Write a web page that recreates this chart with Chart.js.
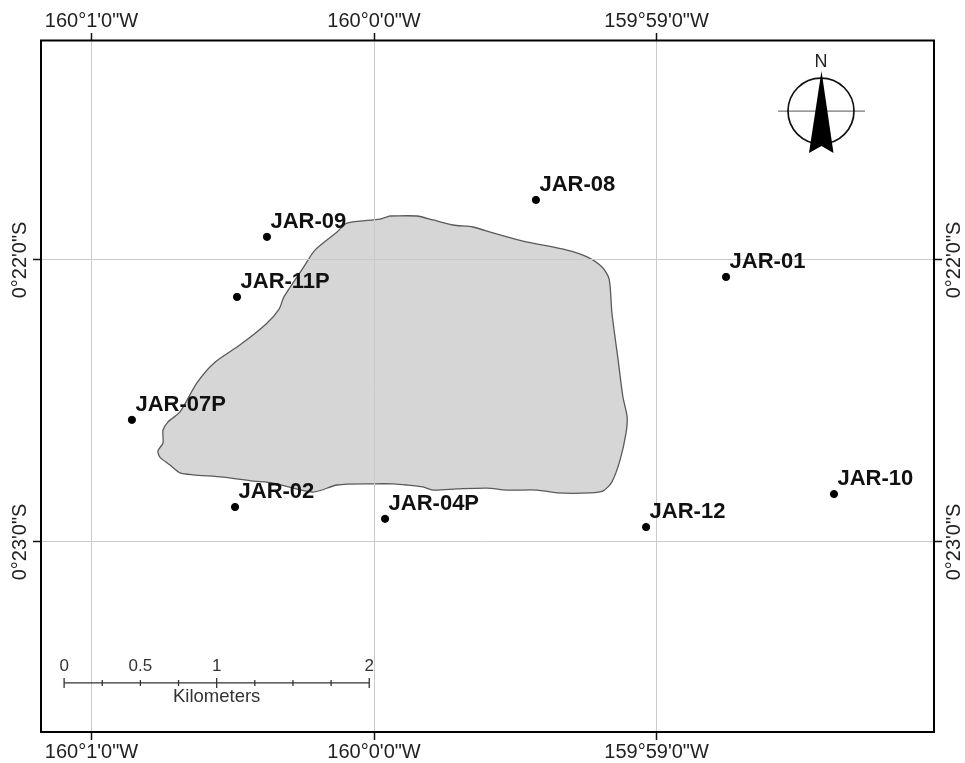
<!DOCTYPE html>
<html>
<head>
<meta charset="utf-8">
<title>JAR stations</title>
<script src="https://cdn.jsdelivr.net/npm/chart.js@4"></script>
<style>
    html, body { margin: 0; padding: 0; background: #fff; }
    canvas { display: block; }
</style>
</head>
<body>
<canvas id="mapChart" width="965" height="763"></canvas>
<script>
// Longitude: minutes east of 160 W, latitude: minutes south of the equator
const lonTicks = [-1, 0, 1];
const lonTickLabels = ['160\u00b01\'0"W', '160\u00b00\'0"W', '159\u00b059\'0"W'];
const latTicks = [22, 23];
const latTickLabels = ['0\u00b022\'0"S', '0\u00b023\'0"S'];

const stationNames = ['JAR-08', 'JAR-09', 'JAR-01', 'JAR-11P', 'JAR-07P', 'JAR-02', 'JAR-04P', 'JAR-12', 'JAR-10'];
const stationLon = [0.573, -0.379, 1.246, -0.485, -0.857, -0.492, 0.039, 0.963, 1.628];
const stationLat = [21.787, 21.918, 22.060, 22.131, 22.567, 22.876, 22.918, 22.947, 22.830];

// Outline of the island, clockwise from the top
const islandLon = [0.057, 0.152, 0.209, 0.280, 0.350, 0.421, 0.527, 0.683, 0.754, 0.807, 0.832, 0.842, 0.864, 0.881, 0.896, 0.892, 0.871, 0.842, 0.811, 0.765, 0.648, 0.577, 0.471, 0.400, 0.294, 0.209, 0.173, 0.117, 0.067, -0.004, -0.131, -0.216, -0.358, -0.428, -0.535, -0.641, -0.687, -0.722, -0.758, -0.765, -0.747, -0.747, -0.729, -0.687, -0.627, -0.566, -0.474, -0.382, -0.336, -0.319, -0.251, -0.209, -0.131, -0.096, 0.021, 0.057];
const islandLat = [21.844, 21.844, 21.858, 21.876, 21.883, 21.904, 21.933, 21.965, 21.989, 22.025, 22.067, 22.188, 22.355, 22.486, 22.557, 22.613, 22.709, 22.787, 22.819, 22.826, 22.826, 22.816, 22.816, 22.809, 22.812, 22.816, 22.805, 22.798, 22.794, 22.794, 22.798, 22.823, 22.791, 22.784, 22.770, 22.762, 22.755, 22.727, 22.699, 22.677, 22.649, 22.603, 22.574, 22.539, 22.436, 22.365, 22.301, 22.227, 22.174, 22.131, 22.028, 21.965, 21.901, 21.869, 21.855, 21.844];

// Scale bar: kilometers along the bar, which ones get a label
const scaleKm = [0, 0.25, 0.5, 0.75, 1, 1.25, 1.5, 1.75, 2];
const scaleKmLabels = ['0', '', '0.5', '', '1', '', '', '', '2'];
const scaleMinutesPerKm = 0.54;
const scaleStartLon = -1.097;
const scaleLat = 23.5;

const compassLon = 1.582;
const compassLat = 21.472;

const FONT = '"Liberation Sans", Arial, sans-serif';
const LON_MIN = -1.1788, LON_MAX = 1.982;
const LAT_MIN = 21.2234, LAT_MAX = 23.674;

function pointsFrom(lons, lats) {
    return lons.map((lon, i) => ({ x: lon, y: lats[i] }));
}

function labelFrom(values, labels) {
    return value => labels[values.indexOf(value)];
}

function lonAxis(position, size) {
    return {
        type: 'linear',
        position: position,
        min: LON_MIN,
        max: LON_MAX,
        afterBuildTicks: scale => { scale.ticks = lonTicks.map(v => ({ value: v })); },
        afterFit: scale => { scale.height = size; },
        border: { display: false },
        grid: {
            z: 1,
            color: '#cacaca',
            lineWidth: 1,
            tickColor: '#111',
            tickWidth: 1.5,
            tickLength: 8,
            drawOnChartArea: position === 'bottom'
        },
        ticks: {
            autoSkip: false,
            maxRotation: 0,
            minRotation: 0,
            padding: 0,
            color: '#222',
            font: { family: FONT, size: 20 },
            callback: labelFrom(lonTicks, lonTickLabels)
        }
    };
}

function latAxis(position, size) {
    return {
        type: 'linear',
        position: position,
        reverse: true,
        min: LAT_MIN,
        max: LAT_MAX,
        afterBuildTicks: scale => { scale.ticks = latTicks.map(v => ({ value: v })); },
        afterFit: scale => { scale.width = size; },
        border: { display: false },
        grid: {
            z: 1,
            color: '#cacaca',
            lineWidth: 1,
            tickColor: '#111',
            tickWidth: 1.5,
            tickLength: 8,
            drawOnChartArea: position === 'left'
        },
        ticks: {
            autoSkip: false,
            minRotation: 90,
            maxRotation: 90,
            crossAlign: 'center',
            padding: -26,
            color: '#222',
            font: { family: FONT, size: 20 },
            callback: labelFrom(latTicks, latTickLabels)
        }
    };
}

const mapFrame = {
    id: 'mapFrame',
    afterDraw(chart) {
        const { left, top, width, height } = chart.chartArea;
        const ctx = chart.ctx;
        ctx.save();
        ctx.strokeStyle = '#000';
        ctx.lineWidth = 2;
        ctx.strokeRect(left, top - 0.5, width, height + 0.5);
        ctx.restore();
    }
};

// Station names sit up and to the right of each dot
const stationLabels = {
    id: 'stationLabels',
    afterDraw(chart) {
        const ctx = chart.ctx;
        ctx.save();
        ctx.font = 'bold 22px ' + FONT;
        ctx.fillStyle = '#111';
        ctx.textBaseline = 'middle';
        ctx.textAlign = 'left';
        stationNames.forEach((name, i) => {
            const px = chart.scales.x.getPixelForValue(stationLon[i]);
            const py = chart.scales.y.getPixelForValue(stationLat[i]);
            ctx.fillText(name, px + 3.5, py - 15);
        });
        ctx.restore();
    }
};

const scaleBar = {
    id: 'scaleBar',
    afterDraw(chart) {
        const ctx = chart.ctx;
        const y = chart.scales.y.getPixelForValue(scaleLat);
        const xAt = km => chart.scales.x.getPixelForValue(scaleStartLon + km * scaleMinutesPerKm);
        ctx.save();
        ctx.strokeStyle = '#333';
        ctx.lineWidth = 1.3;
        ctx.beginPath();
        ctx.moveTo(xAt(scaleKm[0]), y);
        ctx.lineTo(xAt(scaleKm[scaleKm.length - 1]), y);
        scaleKm.forEach((km, i) => {
            const half = scaleKmLabels[i] && km !== 0.5 ? 5 : 3;
            ctx.moveTo(xAt(km), y - half);
            ctx.lineTo(xAt(km), y + half);
        });
        ctx.stroke();
        ctx.fillStyle = '#333';
        ctx.font = '17px ' + FONT;
        ctx.textAlign = 'center';
        ctx.textBaseline = 'middle';
        scaleKm.forEach((km, i) => {
            if (scaleKmLabels[i]) ctx.fillText(scaleKmLabels[i], xAt(km), y - 17);
        });
        ctx.font = '18.5px ' + FONT;
        ctx.fillText('Kilometers', xAt(1), y + 14);
        ctx.restore();
    }
};

const northArrow = {
    id: 'northArrow',
    afterDraw(chart) {
        const ctx = chart.ctx;
        const cx = chart.scales.x.getPixelForValue(compassLon);
        const cy = chart.scales.y.getPixelForValue(compassLat);
        ctx.save();
        ctx.strokeStyle = '#777';
        ctx.lineWidth = 1.3;
        ctx.beginPath();
        ctx.moveTo(cx - 43, cy);
        ctx.lineTo(cx + 44, cy);
        ctx.stroke();
        ctx.strokeStyle = '#111';
        ctx.lineWidth = 1.7;
        ctx.beginPath();
        ctx.arc(cx, cy, 33, 0, Math.PI * 2);
        ctx.stroke();
        ctx.fillStyle = '#000';
        ctx.beginPath();
        ctx.moveTo(cx + 0.5, cy - 40);
        ctx.lineTo(cx + 12.5, cy + 42);
        ctx.lineTo(cx + 0.5, cy + 35);
        ctx.lineTo(cx - 12, cy + 42);
        ctx.closePath();
        ctx.fill();
        ctx.fillStyle = '#222';
        ctx.font = '18px ' + FONT;
        ctx.textAlign = 'center';
        ctx.textBaseline = 'middle';
        ctx.fillText('N', cx, cy - 49);
        ctx.restore();
    }
};

document.addEventListener('DOMContentLoaded', function() {
    new Chart(document.getElementById('mapChart'), {
        type: 'scatter',
        data: {
            datasets: [{
                label: 'Island',
                data: pointsFrom(islandLon, islandLat),
                showLine: true,
                fill: 'shape',
                tension: 0.25,
                backgroundColor: '#d6d6d6',
                borderColor: '#5a5a5a',
                borderWidth: 1.3,
                pointRadius: 0,
                order: 2
            }, {
                label: 'Stations',
                data: pointsFrom(stationLon, stationLat),
                backgroundColor: '#000',
                borderColor: '#000',
                pointRadius: 3.6,
                order: 1
            }]
        },
        options: {
            responsive: false,
            animation: false,
            layout: { padding: 0 },
            plugins: {
                legend: { display: false },
                tooltip: { enabled: false }
            },
            scales: {
                x: lonAxis('bottom', 31),
                x2: lonAxis('top', 41),
                y: latAxis('left', 41),
                y2: latAxis('right', 31)
            }
        },
        plugins: [mapFrame, scaleBar, northArrow, stationLabels]
    });
});
</script>
</body>
</html>
